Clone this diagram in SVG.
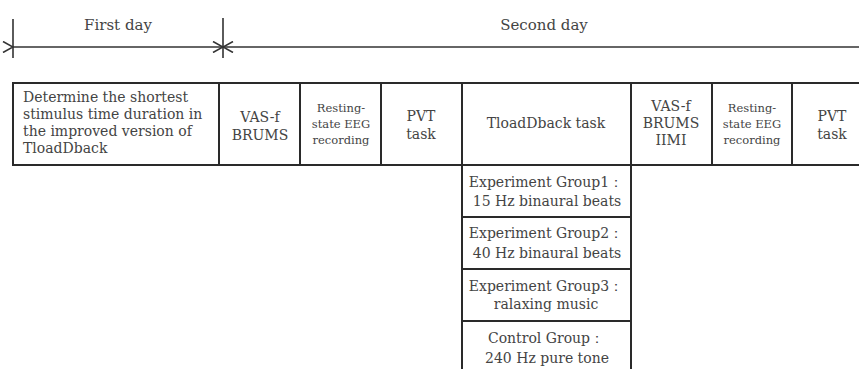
<svg xmlns="http://www.w3.org/2000/svg" width="859" height="369" viewBox="0 0 859 369">
<defs>
<marker id="chev" viewBox="0 0 12 12" refX="1" refY="6" markerWidth="12" markerHeight="12" markerUnits="userSpaceOnUse" orient="auto-start-reverse">
<path d="M11,0.5 L1,6 L11,11.5" fill="none" stroke="#333" stroke-width="1.6"/>
</marker>
</defs>
<style>
text{font-family:"DejaVu Serif","Liberation Serif",serif;fill:#444;text-anchor:middle}
.t{font-size:15px}
.b{font-size:14px}
.s{font-size:11.5px}
.l{text-anchor:start}
rect{fill:#fff;stroke:#2a2a2a;stroke-width:2}
.ln{stroke:#333;stroke-width:1.6;fill:none}
</style>
<rect x="0" y="0" width="859" height="369" style="fill:#fff;stroke:none"/>
<g id="connectors">
<line class="ln" x1="13" y1="19" x2="13" y2="58"/>
<line class="ln" x1="223" y1="18" x2="223" y2="58"/>
<line class="ln" x1="13" y1="47" x2="223" y2="47" marker-start="url(#chev)" marker-end="url(#chev)"/>
<line class="ln" x1="223" y1="47" x2="859" y2="47" marker-start="url(#chev)"/>
</g>
<g id="label-first-day"><text class="t" x="118" y="30">First day</text></g>
<g id="label-second-day"><text class="t" x="544" y="30">Second day</text></g>
<g id="determine">
<rect x="13" y="83" width="206" height="82"/>
<text class="b l" x="23" y="102">Determine the shortest</text>
<text class="b l" x="23" y="119">stimulus time duration in</text>
<text class="b l" x="23" y="136">the improved version of</text>
<text class="b l" x="23" y="153">TloadDback</text>
</g>
<g id="vas1">
<rect x="219" y="83" width="81" height="82"/>
<text class="b" x="260" y="122">VAS-f</text>
<text class="b" x="260" y="140">BRUMS</text>
</g>
<g id="rest1">
<rect x="300" y="83" width="81" height="82"/>
<text class="s" x="341" y="112">Resting-</text>
<text class="s" x="341" y="128">state EEG</text>
<text class="s" x="341" y="144">recording</text>
</g>
<g id="pvt1">
<rect x="381" y="83" width="81" height="82"/>
<text class="b" x="421" y="121">PVT</text>
<text class="b" x="421" y="139">task</text>
</g>
<g id="tloaddback">
<rect x="462" y="83" width="169" height="82"/>
<text class="b" x="546" y="128">TloadDback task</text>
</g>
<g id="vas2">
<rect x="631" y="83" width="81" height="82"/>
<text class="b" x="671" y="111">VAS-f</text>
<text class="b" x="671" y="128">BRUMS</text>
<text class="b" x="671" y="145">IIMI</text>
</g>
<g id="rest2">
<rect x="712" y="83" width="80" height="82"/>
<text class="s" x="752" y="112">Resting-</text>
<text class="s" x="752" y="128">state EEG</text>
<text class="s" x="752" y="144">recording</text>
</g>
<g id="pvt2">
<rect x="792" y="83" width="82" height="82"/>
<text class="b" x="832" y="121">PVT</text>
<text class="b" x="832" y="139">task</text>
</g>
<g id="group1">
<rect x="462" y="165" width="169" height="52"/>
<text class="b" x="546" y="187">Experiment Group1：</text>
<text class="b" x="547" y="206">15 Hz binaural beats</text>
</g>
<g id="group2">
<rect x="462" y="217" width="169" height="52"/>
<text class="b" x="546" y="238">Experiment Group2：</text>
<text class="b" x="547" y="258">40 Hz binaural beats</text>
</g>
<g id="group3">
<rect x="462" y="269" width="169" height="52"/>
<text class="b" x="546" y="291">Experiment Group3：</text>
<text class="b" x="546" y="309">ralaxing music</text>
</g>
<g id="control">
<rect x="462" y="321" width="169" height="54"/>
<text class="b" x="546" y="343">Control Group：</text>
<text class="b" x="547" y="363">240 Hz pure tone</text>
</g>
</svg>
